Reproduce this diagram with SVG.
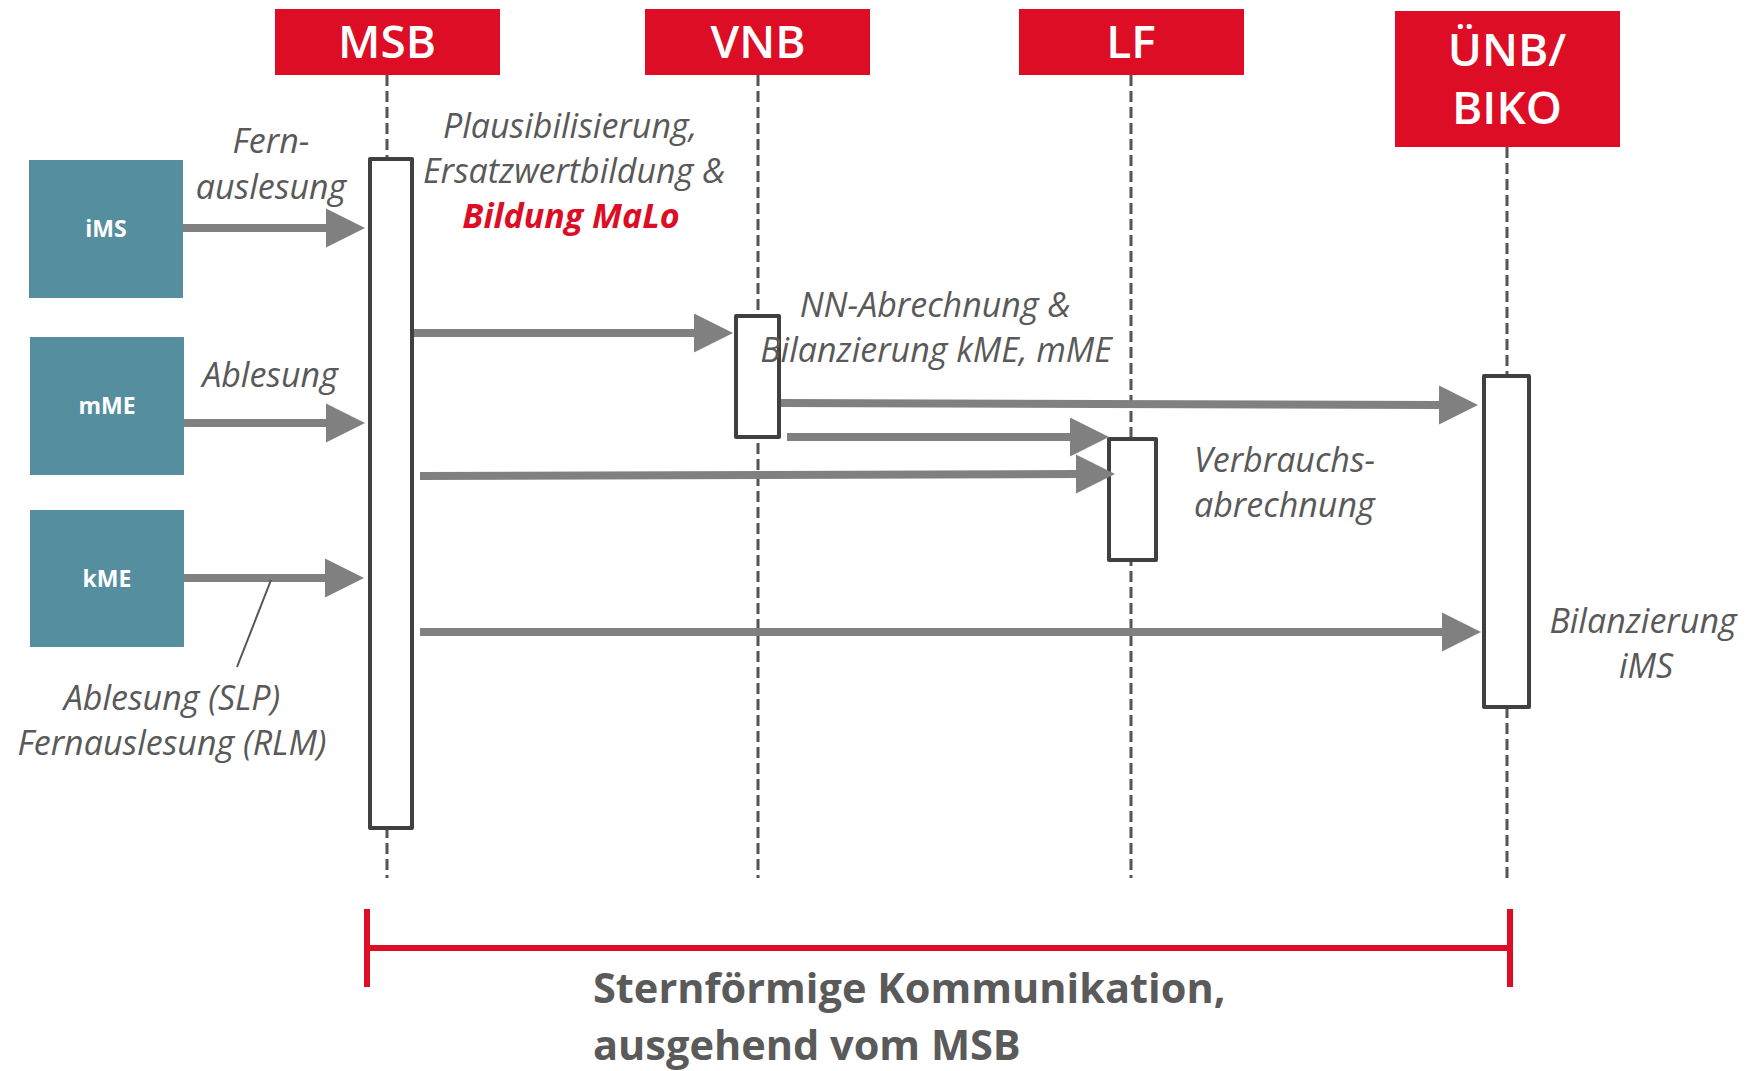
<svg xmlns="http://www.w3.org/2000/svg" width="1748" height="1071" viewBox="0 0 1748 1071">
<style>
.hdr{fill:#dc0d24}
.hdrt{font-family:"Open Sans",sans-serif;font-weight:600;font-size:46px;fill:#fff;text-anchor:middle}
.dev{fill:#548e9f}
.devt{font-family:"Open Sans",sans-serif;font-weight:700;font-size:23px;fill:#fff;text-anchor:middle}
.life{stroke:#555;stroke-width:3;stroke-dasharray:11 5;fill:none}
.act{fill:#fff;stroke:#404040;stroke-width:4;stroke-linejoin:round}
.arr{stroke:#808080;stroke-width:8;fill:none;marker-end:url(#ah)}
.lbl{font-family:"Open Sans",sans-serif;font-style:italic;font-size:34px;fill:#595959}
.red{fill:#dc0d24;font-weight:700}
.brk{stroke:#dc0d24;stroke-width:6;fill:none}
.bot{font-family:"Open Sans",sans-serif;font-weight:700;font-size:41.5px;fill:#5a5a5a}
</style>
<defs>
<marker id="ah" markerUnits="userSpaceOnUse" markerWidth="40" markerHeight="40" refX="0" refY="20" orient="auto" viewBox="0 0 40 40">
<path d="M0,0.5 L39,20 L0,39.5 z" fill="#808080"/>
</marker>
</defs>

<g id="lifelines">
<line class="life" x1="387" y1="75" x2="387" y2="878"/>
<line class="life" x1="758" y1="75" x2="758" y2="878"/>
<line class="life" x1="1131" y1="75" x2="1131" y2="878"/>
<line class="life" x1="1507" y1="147" x2="1507" y2="878"/>
</g>

<g id="MSB"><rect class="hdr" x="275" y="9" width="225" height="66"/><text class="hdrt" x="387" y="58">MSB</text></g>
<g id="VNB"><rect class="hdr" x="645" y="9" width="225" height="66"/><text class="hdrt" x="758" y="58">VNB</text></g>
<g id="LF"><rect class="hdr" x="1019" y="9" width="225" height="66"/><text class="hdrt" x="1131" y="58">LF</text></g>
<g id="UENB"><rect class="hdr" x="1395" y="11" width="225" height="136"/><text class="hdrt" x="1507" y="66">ÜNB/</text><text class="hdrt" x="1507" y="124">BIKO</text></g>

<g id="iMS"><rect class="dev" x="29" y="160" width="154" height="138"/><text class="devt" x="106" y="237">iMS</text></g>
<g id="mME"><rect class="dev" x="30" y="337" width="154" height="138"/><text class="devt" x="107" y="414">mME</text></g>
<g id="kME"><rect class="dev" x="30" y="510" width="154" height="137"/><text class="devt" x="107" y="587">kME</text></g>

<g id="MSB-act"><rect class="act" x="370" y="159" width="42" height="669"/></g>
<g id="VNB-act"><rect class="act" x="736" y="316" width="43" height="121"/></g>
<g id="LF-act"><rect class="act" x="1109" y="439" width="47" height="121"/></g>
<g id="UENB-act"><rect class="act" x="1484" y="376" width="45" height="331"/></g>

<g id="connectors">
<line class="arr" x1="183" y1="228" x2="326" y2="228"/>
<line class="arr" x1="184" y1="423" x2="326" y2="423"/>
<line class="arr" x1="184" y1="578" x2="325" y2="578"/>
<line class="arr" x1="414" y1="333" x2="694" y2="333"/>
<line class="arr" x1="781" y1="403" x2="1439" y2="405"/>
<line class="arr" x1="787" y1="437" x2="1070" y2="437"/>
<line class="arr" x1="420" y1="476" x2="1076" y2="474"/>
<line class="arr" x1="420" y1="632" x2="1442" y2="632"/>
<line x1="271" y1="580" x2="237" y2="667" stroke="#555" stroke-width="2"/>
</g>

<g id="labels">
<text class="lbl" x="271" y="153" text-anchor="middle">Fern-</text>
<text class="lbl" x="271" y="199" text-anchor="middle">auslesung</text>
<text class="lbl" x="270" y="387" text-anchor="middle">Ablesung</text>
<text class="lbl" x="172" y="710" text-anchor="middle">Ablesung (SLP)</text>
<text class="lbl" x="172" y="755" text-anchor="middle">Fernauslesung (RLM)</text>
<text class="lbl" x="570" y="138" text-anchor="middle">Plausibilisierung,</text>
<text class="lbl" x="574" y="183" text-anchor="middle">Ersatzwertbildung &amp;</text>
<text class="lbl red" x="571" y="228" text-anchor="middle">Bildung MaLo</text>
<text class="lbl" x="935" y="317" text-anchor="middle">NN-Abrechnung &amp;</text>
<text class="lbl" x="936" y="362" text-anchor="middle">Bilanzierung kME, mME</text>
<text class="lbl" x="1194" y="472">Verbrauchs-</text>
<text class="lbl" x="1194" y="517">abrechnung</text>
<text class="lbl" x="1643" y="633" text-anchor="middle">Bilanzierung</text>
<text class="lbl" x="1646" y="678" text-anchor="middle">iMS</text>
</g>

<g id="bracket">
<line class="brk" x1="367" y1="909" x2="367" y2="987"/>
<line class="brk" x1="1510" y1="909" x2="1510" y2="987"/>
<line class="brk" x1="367" y1="948" x2="1510" y2="948"/>
<text class="bot" x="593" y="1003">Sternförmige Kommunikation,</text>
<text class="bot" x="593" y="1060">ausgehend vom MSB</text>
</g>
</svg>
